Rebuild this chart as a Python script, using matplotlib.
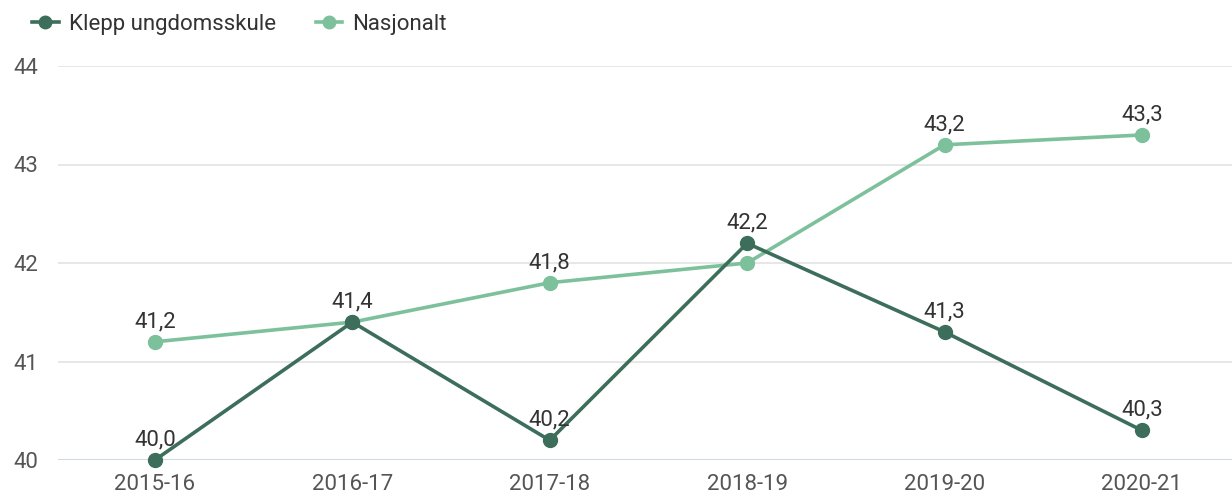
import matplotlib
matplotlib.use("Agg")
import matplotlib.pyplot as plt
from matplotlib.lines import Line2D

categories = ["2015-16", "2016-17", "2017-18", "2018-19", "2019-20", "2020-21"]
klepp = [40.0, 41.4, 40.2, 42.2, 41.3, 40.3]
nasjonalt = [41.2, 41.4, 41.8, 42.0, 43.2, 43.3]
klepp_labels = [True, True, True, True, True, True]
nasj_labels = [True, False, True, False, True, True]
yticks = [40, 41, 42, 43, 44]

plt.rcParams['font.family'] = ['Roboto', 'DejaVu Sans']
W, H = 1232, 497
fig = plt.figure(figsize=(W/100, H/100), dpi=100)
left, right, top, bottom = 58, 1232, 66, 460
ax = fig.add_axes([left/W, 1-bottom/H, (right-left)/W, (bottom-top)/H])

dark = "#3d6e5b"
light = "#7dc19c"
x = list(range(len(categories)))
FS = 16

ax.plot(x, nasjonalt, color=light, lw=2.6, marker='o', ms=10, clip_on=False, zorder=3)
ax.plot(x, klepp, color=dark, lw=2.6, marker='o', ms=10, clip_on=False, zorder=4)

def fmt(v):
    return f"{v:.1f}".replace(".", ",")

for i, v in enumerate(nasjonalt):
    if nasj_labels[i]:
        ax.annotate(fmt(v), (i, v), xytext=(0, 7), textcoords='offset points',
                    ha='center', va='bottom', fontsize=FS, color='#333333', zorder=5)
for i, v in enumerate(klepp):
    if klepp_labels[i]:
        ax.annotate(fmt(v), (i, v), xytext=(0, 7), textcoords='offset points',
                    ha='center', va='bottom', fontsize=FS, color='#333333', zorder=5)

ax.set_xlim(-0.491, 5.456)
ax.set_ylim(40, 44)
ax.set_yticks(yticks)
ax.set_yticklabels([str(t) for t in yticks])
ax.set_xticks(x)
ax.set_xticklabels(categories)
ax.tick_params(axis='both', length=0, labelsize=FS, labelcolor='#555555')
ax.tick_params(axis='y', pad=14)
ax.tick_params(axis='x', pad=10)
for s in ax.spines.values():
    s.set_visible(False)
ax.grid(axis='y', color='#e3e3e3', lw=1.2)
ax.axhline(40, color='#ccd6eb', lw=1.2, zorder=1)
ax.set_axisbelow(True)

handles = [Line2D([0], [0], color=dark, lw=2.6, marker='o', ms=9),
           Line2D([0], [0], color=light, lw=2.6, marker='o', ms=9)]
fig.legend(handles, ["Klepp ungdomsskule", "Nasjonalt"], loc='upper left',
           bbox_to_anchor=(32/W, 1-14/H), ncol=2, frameon=False, fontsize=FS,
           handlelength=1.2, handletextpad=0.45, columnspacing=1.8, labelcolor='#333333',
           borderaxespad=0, borderpad=0)

fig.savefig("out.png", dpi=100)
